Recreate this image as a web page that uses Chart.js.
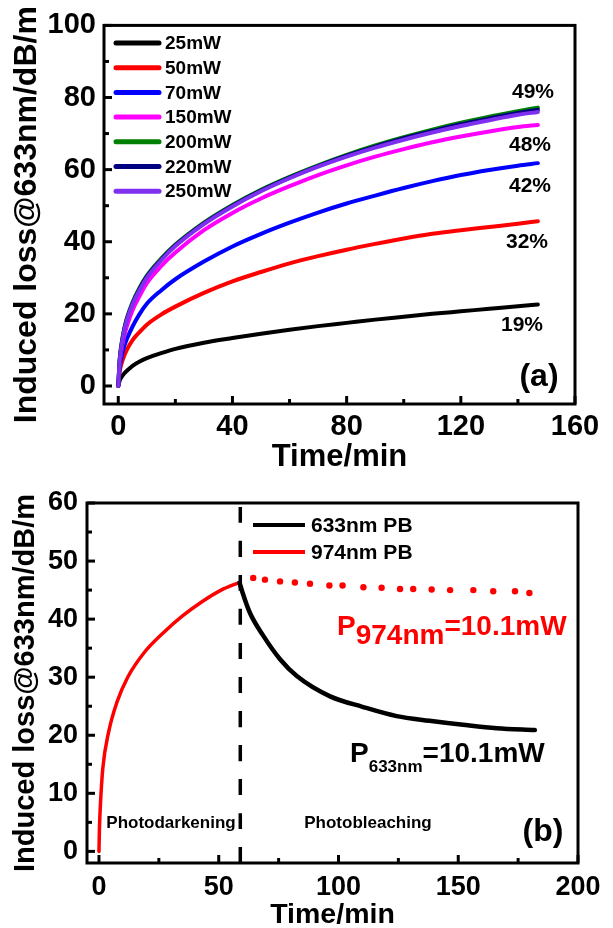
<!DOCTYPE html>
<html>
<head>
<meta charset="utf-8">
<script src="https://cdn.jsdelivr.net/npm/chart.js@4.4.1/dist/chart.umd.min.js"></script>
<style>
  html, body { margin: 0; padding: 0; background: #fff; }
  #wrapA { position: absolute; left: 0; top: 0; width: 613px; height: 476px; }
  #wrapB { position: absolute; left: 0; top: 476px; width: 613px; height: 452px; }
</style>
</head>
<body>
<div id="wrapA"><canvas id="chartA" width="613" height="476"></canvas></div>
<div id="wrapB"><canvas id="chartB" width="613" height="452"></canvas></div>
<script>
// ---- panel (a): induced loss vs time for several pump powers
const timeA = [0, 0.5, 1, 2, 3, 5, 7.5, 10, 15, 20, 30, 40, 50, 60, 70, 80, 90, 100, 110, 120, 130, 140, 147];
const loss25  = [0, 1.5, 2.3, 3.4, 4.2, 5.6, 6.8, 7.7, 9.1, 10.3, 12.0, 13.3, 14.5, 15.6, 16.6, 17.5, 18.4, 19.2, 20.0, 20.7, 21.4, 22.1, 22.6];
const loss50  = [0, 4.0, 5.8, 8.2, 10.0, 12.7, 15.0, 17.0, 19.8, 22.0, 25.8, 29.0, 31.6, 34.0, 36.0, 37.8, 39.4, 40.9, 42.2, 43.2, 44.1, 45.0, 45.7];
const loss70  = [0, 5.0, 7.5, 10.8, 13.0, 16.5, 20.0, 22.8, 26.5, 29.6, 34.5, 38.7, 42.2, 45.3, 48.1, 50.6, 52.8, 54.9, 56.8, 58.5, 59.9, 61.1, 61.8];
const loss150 = [0, 6.5, 9.5, 13.6, 16.5, 21.0, 25.0, 28.5, 33.2, 37.0, 43.2, 48.0, 52.0, 55.4, 58.5, 61.2, 63.6, 65.7, 67.6, 69.2, 70.6, 71.8, 72.4];
const loss200 = [0, 7.5, 11.0, 15.6, 18.8, 23.2, 27.3, 30.6, 35.3, 39.2, 45.3, 50.2, 54.4, 58.0, 61.2, 64.1, 66.7, 69.0, 71.1, 73.0, 74.7, 76.2, 77.2];
const loss220 = [0, 7.3, 10.7, 15.3, 18.5, 22.9, 27.0, 30.3, 35.0, 39.0, 45.1, 50.0, 54.2, 57.8, 61.0, 63.9, 66.4, 68.7, 70.7, 72.6, 74.2, 75.7, 76.6];
const loss250 = [0, 7.0, 10.4, 15.0, 18.2, 22.6, 26.6, 30.0, 34.8, 38.8, 44.9, 49.8, 54.0, 57.6, 60.8, 63.6, 66.1, 68.3, 70.3, 72.1, 73.7, 75.2, 76.0];
const powerLabels = ['25mW', '50mW', '70mW', '150mW', '200mW', '220mW', '250mW'];
const powerSeries = [loss25, loss50, loss70, loss150, loss200, loss220, loss250];
const powerColors = ['#000000', '#ff0000', '#0000ff', '#ff00ff', '#008000', '#000080', '#7f2ff0'];
const pctLabels = ['49%', '48%', '42%', '32%', '19%'];
const xTicksA = [0, 40, 80, 120, 160];
const yTicksA = [0, 20, 40, 60, 80, 100];

// ---- panel (b): photodarkening then photobleaching
const timeDark = [0, 0.2, 0.6, 1.6, 4, 7.5, 12, 19, 27, 35, 43, 51, 58.5];
const lossDark = [0, 4, 8, 14.3, 20.5, 25.7, 30, 34.3, 37.7, 40.6, 43, 45, 46.3];
const time633 = [58.7, 60, 63, 68.5, 75.6, 82.6, 96.5, 110, 124.3, 138, 152, 166, 182];
const loss633 = [46.3, 44.5, 41.1, 37.2, 33.1, 30.2, 26.7, 24.9, 23.3, 22.5, 21.8, 21.2, 20.9];
const time974 = [64.4, 69.3, 75.6, 81.8, 88.1, 96.2, 101.7, 110.4, 118, 125.7, 131.2, 138.9, 146.6, 156.3, 164.6, 173.7, 179.7];
const loss974 = [47.1, 46.8, 46.5, 46.3, 46.1, 45.8, 45.8, 45.5, 45.4, 45.2, 45.2, 45.1, 45.0, 45.0, 44.8, 44.8, 44.5];
const switchTime = 59;
const pbLabels = ['633nm PB', '974nm PB'];
const xTicksB = [0, 50, 100, 150, 200];
const yTicksB = [0, 10, 20, 30, 40, 50, 60];

const FONT = "'Liberation Sans', Arial, sans-serif";
const yTitle = 'Induced loss@633nm/dB/m';

function pts(xs, ys) { return xs.map((x, i) => ({ x: x, y: ys[i] })); }

function axis(o) {
  return {
    type: 'linear',
    min: o.min, max: o.max,
    grid: { display: false, drawTicks: false },
    border: { display: false },
    afterBuildTicks: s => { s.ticks = o.ticks.map(v => ({ value: v })); },
    afterFit: s => { if (o.isY) s.width = o.size; else s.height = o.size; },
    ticks: { autoSkip: false, maxRotation: 0, padding: o.pad, color: '#000',
             font: { family: FONT, weight: 'bold', size: o.tickSize } },
    title: { display: true, text: o.title, color: '#000', padding: o.titlePad,
             font: { family: FONT, weight: 'bold', size: o.titleSize, lineHeight: o.titleLH || 1.2 } }
  };
}

// box around the plot + inward major/minor ticks on left and bottom
const frame = {
  id: 'frame',
  afterDatasetsDraw(chart) {
    const { ctx, chartArea: { left, right, top, bottom }, scales: { x, y } } = chart;
    ctx.save();
    ctx.strokeStyle = '#000';
    ctx.lineWidth = 3;
    ctx.strokeRect(left, top, right - left, bottom - top);
    const tickMarks = (scale, horiz) => {
      const vals = scale.ticks.map(t => t.value);
      vals.forEach((v, i) => {
        const list = [[v, 8]];
        if (i < vals.length - 1) list.push([(v + vals[i + 1]) / 2, 5]);
        list.forEach(([val, len]) => {
          const p = scale.getPixelForValue(val);
          ctx.beginPath();
          if (horiz) { ctx.moveTo(p, bottom); ctx.lineTo(p, bottom - len); }
          else { ctx.moveTo(left, p); ctx.lineTo(left + len, p); }
          ctx.stroke();
        });
      });
    };
    tickMarks(x, true);
    tickMarks(y, false);
    ctx.restore();
  }
};

const annotA = {
  id: 'annotA',
  afterDraw(chart) {
    const { ctx } = chart;
    ctx.save();
    ctx.textBaseline = 'middle';
    ctx.font = 'bold 19px ' + FONT;
    chart.data.datasets.forEach((ds, i) => {
      const yy = 43 + i * 24.7;
      ctx.strokeStyle = ds.borderColor;
      ctx.lineWidth = 5;
      ctx.lineCap = 'round';
      ctx.beginPath(); ctx.moveTo(116, yy); ctx.lineTo(159, yy); ctx.stroke();
      ctx.fillStyle = '#000';
      ctx.textAlign = 'left';
      ctx.fillText(ds.label, 165, yy + 1);
    });
    ctx.textAlign = 'center';
    ctx.font = 'bold 21px ' + FONT;
    const pos = [[533, 92], [530, 145], [530, 186], [527, 242], [522, 325]];
    pctLabels.forEach((t, i) => ctx.fillText(t, pos[i][0], pos[i][1]));
    ctx.font = 'bold 32px ' + FONT;
    ctx.fillText('(a)', 539, 377);
    ctx.restore();
  }
};

const annotB = {
  id: 'annotB',
  afterDraw(chart) {
    const { ctx } = chart;
    ctx.save();
    ctx.textBaseline = 'middle';
    ctx.font = 'bold 21px ' + FONT;
    [['#000', 49], ['#ff0000', 76]].forEach(([c, yy], i) => {
      ctx.strokeStyle = c; ctx.lineWidth = 4;
      ctx.beginPath(); ctx.moveTo(253, yy); ctx.lineTo(305, yy); ctx.stroke();
      ctx.fillStyle = '#000'; ctx.textAlign = 'left';
      ctx.fillText(pbLabels[i], 311, yy + 1);
    });
    ctx.textBaseline = 'alphabetic';
    // P974nm=10.1mW
    let x0 = 337;
    ctx.fillStyle = '#ff0000';
    ctx.font = 'bold 28px ' + FONT;
    ctx.fillText('P', x0, 159); x0 += ctx.measureText('P').width;
    ctx.fillText('974nm', x0, 168); x0 += ctx.measureText('974nm').width;
    ctx.fillText('=10.1mW', x0, 159);
    // P633nm=10.1mW
    x0 = 350;
    ctx.fillStyle = '#000';
    ctx.font = 'bold 28px ' + FONT;
    ctx.fillText('P', x0, 286); x0 += ctx.measureText('P').width;
    ctx.font = 'bold 17px ' + FONT;
    ctx.fillText('633nm', x0, 296); x0 += ctx.measureText('633nm').width;
    ctx.font = 'bold 28px ' + FONT;
    ctx.fillText('=10.1mW', x0, 286);
    ctx.textAlign = 'center';
    ctx.textBaseline = 'middle';
    ctx.font = 'bold 17px ' + FONT;
    ctx.fillText('Photodarkening', 171, 347);
    ctx.fillText('Photobleaching', 368, 347);
    ctx.font = 'bold 32px ' + FONT;
    ctx.fillText('(b)', 543, 356);
    ctx.restore();
  }
};

const common = {
  responsive: false,
  animation: false,
  devicePixelRatio: 1,
  elements: { point: { radius: 0 }, line: { cubicInterpolationMode: 'monotone', borderCapStyle: 'round', borderJoinStyle: 'round' } },
  plugins: { legend: { display: false }, tooltip: { enabled: false } }
};

new Chart(document.getElementById('chartA'), {
  type: 'line',
  data: {
    datasets: powerSeries.map((s, i) => ({
      label: powerLabels[i],
      data: pts(timeA, s),
      borderColor: powerColors[i],
      borderWidth: 4,
      fill: false,
      order: powerSeries.length - i
    }))
  },
  options: Object.assign({}, common, {
    layout: { padding: { left: 0, right: 38, top: 25, bottom: 0 } },
    scales: {
      x: axis({ min: -5, max: 160, ticks: xTicksA, size: 72, pad: 6, tickSize: 29,
                title: 'Time/min', titleSize: 31, titlePad: { top: 0, bottom: 0 } }),
      y: axis({ isY: true, min: -5, max: 100, ticks: yTicksA, size: 104, pad: 8, tickSize: 29,
                title: yTitle, titleSize: 32, titlePad: { top: 8, bottom: 0 } })
    }
  }),
  plugins: [frame, annotA]
});

new Chart(document.getElementById('chartB'), {
  type: 'line',
  data: {
    datasets: [
      { label: 'switch', data: [{ x: switchTime, y: 60 }, { x: switchTime, y: -2 }],
        borderColor: '#000', borderWidth: 3.5, borderDash: [16, 18], borderDashOffset: 30,
        borderCapStyle: 'butt' },
      { label: pbLabels[0], data: pts(time633, loss633), borderColor: '#000', borderWidth: 4.5 },
      { label: 'dark', data: pts(timeDark, lossDark), borderColor: '#ff0000', borderWidth: 3.5 },
      { label: pbLabels[1], data: pts(time974, loss974), showLine: false,
        pointRadius: 3.2, pointBackgroundColor: '#ff0000', pointBorderWidth: 0, borderColor: '#ff0000' }
    ]
  },
  options: Object.assign({}, common, {
    layout: { padding: { left: 0, right: 35, top: 27, bottom: 0 } },
    scales: {
      x: axis({ min: -5, max: 200, ticks: xTicksB, size: 65, pad: 8, tickSize: 27,
                title: 'Time/min', titleSize: 28.5, titleLH: 0.9, titlePad: { top: 0, bottom: 0 } }),
      y: axis({ isY: true, min: -2, max: 60, ticks: yTicksB, size: 87, pad: 9, tickSize: 27,
                title: yTitle, titleSize: 29, titlePad: { top: 9, bottom: 0 } })
    }
  }),
  plugins: [frame, annotB]
});
</script>
</body>
</html>
